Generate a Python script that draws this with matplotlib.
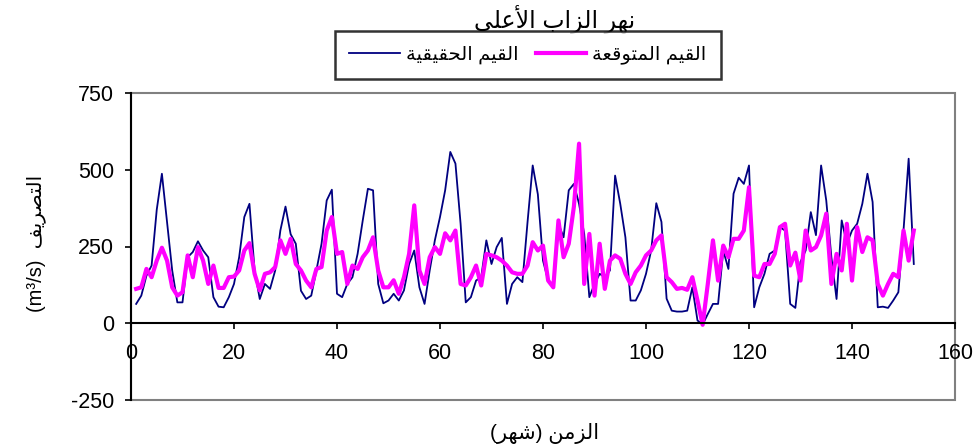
import numpy as np
import matplotlib
matplotlib.use('Agg')
import matplotlib.pyplot as plt
from matplotlib.patches import Rectangle

# monthly discharge, upper Zab river
actual = [63, 90, 155, 188, 370, 487, 330, 172, 68, 68,
          215, 232, 267, 237, 215, 85, 54, 52, 85, 128,
          215, 346, 389, 172, 79, 128, 112, 172, 302, 380,
          290, 259, 106, 79, 90, 172, 259, 400, 435, 96,
          85, 128, 150, 226, 335, 438, 433, 128, 65, 74,
          96, 74, 107, 193, 237, 117, 63, 172, 270, 346,
          433, 558, 520, 324, 68, 85, 139, 150, 270, 193,
          248, 278, 63, 128, 150, 134, 330, 514, 420, 204,
          139, 117, 324, 280, 433, 454, 389, 291, 85, 128,
          161, 150, 172, 481, 389, 280, 74, 74, 107, 161,
          237, 391, 330, 80, 41, 38, 38, 41, 117, 9,
          -4, 30, 63, 63, 237, 177, 422, 474, 454, 514,
          52, 117, 161, 226, 237, 313, 302, 63, 50, 200,
          237, 362, 287, 514, 400, 215, 79, 335, 259, 302,
          324, 389, 487, 395, 52, 54, 50, 74, 101, 302,
          536, 193]
predicted = [112, 117, 177, 150, 204, 246, 204, 117, 90, 101,
             221, 150, 248, 204, 128, 188, 115, 115, 150, 152,
             172, 237, 261, 161, 107, 161, 166, 183, 270, 226,
             275, 193, 172, 139, 117, 177, 183, 302, 346, 226,
             232, 128, 188, 177, 215, 237, 280, 172, 117, 117,
             140, 96, 150, 226, 384, 172, 128, 215, 248, 226,
             293, 270, 302, 128, 123, 150, 188, 123, 226, 221,
             215, 204, 188, 166, 161, 161, 188, 264, 237, 253,
             139, 117, 335, 215, 259, 380, 585, 128, 291, 90,
             259, 112, 204, 221, 210, 161, 128, 166, 188, 221,
             237, 270, 286, 150, 134, 112, 115, 109, 150, 74,
             -5, 128, 270, 139, 253, 215, 275, 275, 302, 443,
             155, 150, 193, 193, 226, 313, 324, 188, 230, 139,
             302, 237, 248, 286, 357, 128, 226, 172, 324, 139,
             313, 232, 280, 270, 128, 90, 128, 161, 150, 302,
             204, 302]
months = np.arange(1, len(actual) + 1)

title = 'نهر الزاب الأعلى'
label_actual = 'القيم الحقيقية'
label_pred = 'القيم المتوقعة'
xlabel = 'الزمن (شهر)'
ylabel_ar = 'التصريف'
ylabel_unit = '(m³/s)'

# tiny arabic shaper: matplotlib has no arabic shaping / bidi
FORMS = {
    'ا': ('\uFE8D', '\uFE8E', None, None),
    'أ': ('\uFE83', '\uFE84', None, None),
    'ب': ('\uFE8F', '\uFE90', '\uFE91', '\uFE92'),
    'ة': ('\uFE93', '\uFE94', None, None),
    'ت': ('\uFE95', '\uFE96', '\uFE97', '\uFE98'),
    'ح': ('\uFEA1', '\uFEA2', '\uFEA3', '\uFEA4'),
    'ر': ('\uFEAD', '\uFEAE', None, None),
    'ز': ('\uFEAF', '\uFEB0', None, None),
    'ش': ('\uFEB5', '\uFEB6', '\uFEB7', '\uFEB8'),
    'ص': ('\uFEB9', '\uFEBA', '\uFEBB', '\uFEBC'),
    'ع': ('\uFEC9', '\uFECA', '\uFECB', '\uFECC'),
    'ف': ('\uFED1', '\uFED2', '\uFED3', '\uFED4'),
    'ق': ('\uFED5', '\uFED6', '\uFED7', '\uFED8'),
    'ل': ('\uFEDD', '\uFEDE', '\uFEDF', '\uFEE0'),
    'م': ('\uFEE1', '\uFEE2', '\uFEE3', '\uFEE4'),
    'ن': ('\uFEE5', '\uFEE6', '\uFEE7', '\uFEE8'),
    'ه': ('\uFEE9', '\uFEEA', '\uFEEB', '\uFEEC'),
    'و': ('\uFEED', '\uFEEE', None, None),
    'ى': ('\uFEEF', '\uFEF0', None, None),
    'ي': ('\uFEF1', '\uFEF2', '\uFEF3', '\uFEF4'),
}
LAM_ALEF = {'ا': ('\uFEFB', '\uFEFC'), 'أ': ('\uFEF7', '\uFEF8')}


def shape(s):
    def dual(c):
        return c in FORMS and FORMS[c][2] is not None
    out = []
    i = 0
    while i < len(s):
        c = s[i]
        if c not in FORMS:
            out.append(c)
            i += 1
            continue
        jp = i > 0 and dual(s[i - 1])
        if c == 'ل' and i + 1 < len(s) and s[i + 1] in LAM_ALEF:
            iso, fin = LAM_ALEF[s[i + 1]]
            out.append(fin if jp else iso)
            i += 2
            continue
        jn = dual(c) and i + 1 < len(s) and s[i + 1] in FORMS
        f = FORMS[c]
        out.append(f[3] if (jp and jn) else f[1] if jp else f[2] if jn else f[0])
        i += 1
    return ''.join(out)


def visual(s):
    t = shape(s)[::-1]
    return t.replace('(', '\0').replace(')', '(').replace('\0', ')')


FONT = ['Liberation Sans', 'DejaVu Sans']
plt.rcParams['font.family'] = FONT
plt.rcParams['axes.unicode_minus'] = False

fig = plt.figure(figsize=(9.8, 4.47), dpi=100)
ax = fig.add_axes([131 / 980, 1 - 400 / 447, 824 / 980, 307 / 447])

l1, = ax.plot(months, actual, color='#000080', lw=1.3, label=visual(label_actual))
l2, = ax.plot(months, predicted, color='#FF00FF', lw=3.0, label=visual(label_pred))

ax.set_xlim(0, 160)
ax.set_ylim(-250, 750)
ax.set_xticks(np.arange(0, 161, 20))
ax.set_yticks([-250, 0, 250, 500, 750])

# x axis crosses at zero, grey plot-area frame
ax.spines['bottom'].set_position(('data', 0))
ax.spines['top'].set_visible(False)
ax.spines['right'].set_visible(False)
ax.spines['left'].set_linewidth(1.5)
ax.spines['bottom'].set_linewidth(1.5)
ax.add_patch(Rectangle((0, 0), 1, 1, transform=ax.transAxes, fill=False,
                       edgecolor='#808080', lw=1.5, zorder=0.5, clip_on=False))
ax.tick_params(axis='both', direction='out', length=4, width=1.2, labelsize=15.5)
ax.tick_params(axis='y', pad=8)
ax.tick_params(axis='x', pad=10)

fig.text(555 / 980, 1 - 20 / 447, visual(title), ha='center', va='center', fontsize=17)
fig.text(545 / 980, 1 - 434 / 447, visual(xlabel), ha='center', va='center', fontsize=15)
fig.text(36 / 980, 1 - 243 / 447, ylabel_unit + '  ' + visual(ylabel_ar),
         ha='center', va='center', rotation=90, fontsize=14.5)

leg = fig.legend(handles=[l1, l2], loc='center', ncol=2,
                 bbox_to_anchor=(528 / 980, 1 - 55 / 447), frameon=True,
                 fancybox=False, edgecolor='black', fontsize=14,
                 handlelength=2.6, handletextpad=0.3, columnspacing=0.9,
                 borderpad=0.75, borderaxespad=0)
leg.get_frame().set_linewidth(1.8)

fig.savefig('out.png', dpi=100)
